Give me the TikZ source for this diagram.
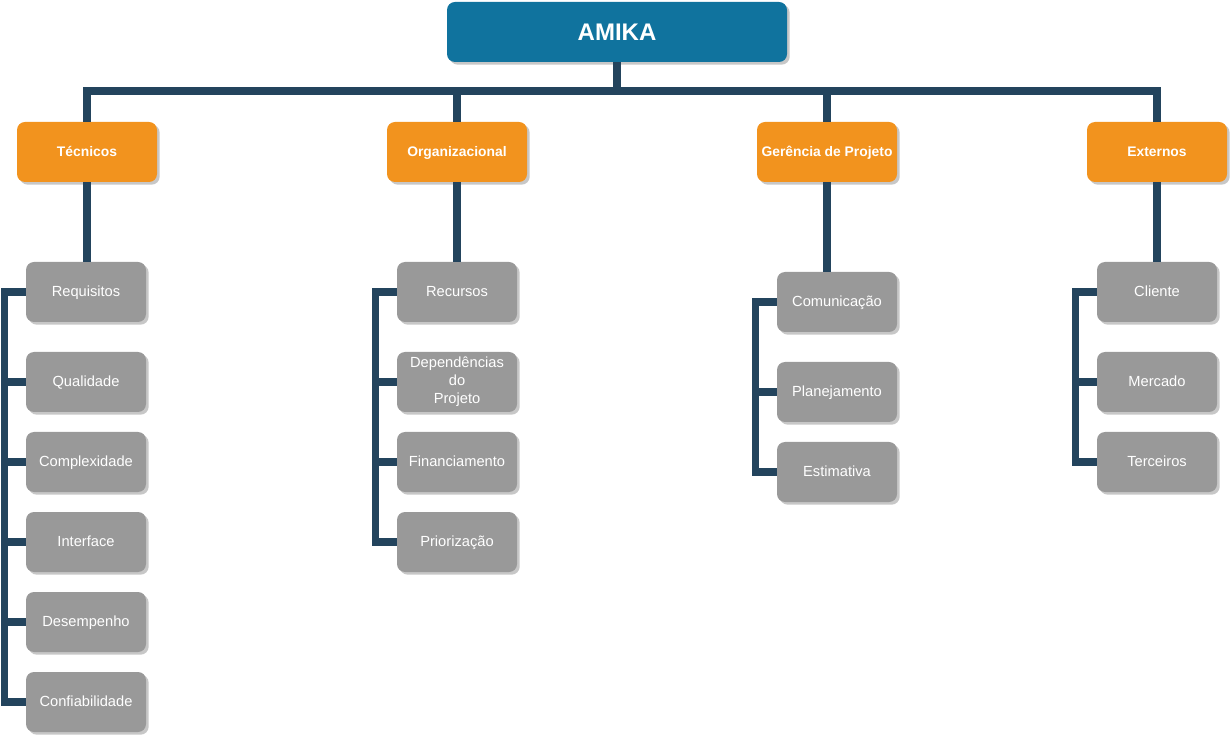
\documentclass[tikz,border=0pt]{standalone}
\usepackage{fontspec}
\setmainfont{Liberation Sans}
\usetikzlibrary{shadows}
\definecolor{amikablue}{HTML}{10739E}
\definecolor{areaorange}{HTML}{F2931E}
\definecolor{itemgray}{HTML}{999999}
\definecolor{linkblue}{HTML}{23445D}
\tikzset{
  boxshadow/.style={drop shadow={shadow xshift=2pt, shadow yshift=-2pt, fill=black!22, opacity=1}
  },
  topnode/.style={
    rectangle, rounded corners=6pt, fill=amikablue, text=white, boxshadow,
    minimum width=255pt, minimum height=45pt, font=\fontsize{18}{20}\selectfont\bfseries
  },
  areanode/.style={
    rectangle, rounded corners=6pt, fill=areaorange, text=white, boxshadow, inner sep=1pt,
    text height=0.75em, text depth=0.05em,
    minimum width=105pt, minimum height=45pt, font=\fontsize{10.4}{12}\selectfont\bfseries
  },
  itemnode/.style={
    rectangle, rounded corners=6pt, fill=itemgray, text=white, boxshadow, inner sep=1pt,
    text height=0.75em, text depth=0.05em,
    minimum width=90pt, minimum height=45pt, align=center, font=\fontsize{11}{13.5}\selectfont
  },
  link/.style={draw=linkblue, line width=5.5pt}
}

\begin{document}
\begin{tikzpicture}[x=0.75pt, y=-0.75pt]
   \useasboundingbox (0, 0) rectangle (1231, 737);

   \node[topnode] (amika) at (617, 32) {AMIKA};

   \node[areanode] (tec) at (87, 152) {Técnicos};
   \node[areanode] (org) at (457, 152) {Organizacional};
   \node[areanode] (ger) at (827, 152) {Gerência de Projeto};
   \node[areanode] (ext) at (1157, 152) {Externos};

   \node[itemnode] (req) at (86, 292) {Requisitos};
   \node[itemnode] (qual) at (86, 382) {Qualidade};
   \node[itemnode] (comp) at (86, 462) {Complexidade};
   \node[itemnode] (inter) at (86, 542) {Interface};
   \node[itemnode] (desemp) at (86, 622) {Desempenho};
   \node[itemnode] (conf) at (86, 702) {Confiabilidade};

   \node[itemnode] (rec) at (457, 292) {Recursos};
   \node[itemnode, text height=, text depth=] (dep) at (457, 382) {Dependências\\do\\Projeto};
   \node[itemnode] (fin) at (457, 462) {Financiamento};
   \node[itemnode] (prio) at (457, 542) {Priorização};

   \node[itemnode] (com) at (837, 302) {Comunicação};
   \node[itemnode] (plan) at (837, 392) {Planejamento};
   \node[itemnode] (est) at (837, 472) {Estimativa};

   \node[itemnode] (cli) at (1157, 292) {Cliente};
   \node[itemnode] (merc) at (1157, 382) {Mercado};
   \node[itemnode] (terc) at (1157, 462) {Terceiros};

   \coordinate (bus) at (617, 91);
   \draw[link] (amika.south) -- (bus);
   \draw[link] (tec.north) |- (bus) -| (ext.north);
   \draw[link] (org.north) -- (org.north |- bus);
   \draw[link] (ger.north) -- (ger.north |- bus);

   \draw[link] (tec.south) -- (tec.south |- req.north);
   \draw[link] (org.south) -- (rec.north);
   \draw[link] (ger.south) -- (ger.south |- com.north);
   \draw[link] (ext.south) -- (cli.north);

   \foreach \n in {qual, comp, inter, desemp, conf}
      \draw[link] (req.west) -- ++(-21, 0) |- (\n.west);
   \foreach \n in {dep, fin, prio}
      \draw[link] (rec.west) -- ++(-21, 0) |- (\n.west);
   \foreach \n in {plan, est}
      \draw[link] (com.west) -- ++(-21, 0) |- (\n.west);
   \foreach \n in {merc, terc}
      \draw[link] (cli.west) -- ++(-21, 0) |- (\n.west);
\end{tikzpicture}
\end{document}
